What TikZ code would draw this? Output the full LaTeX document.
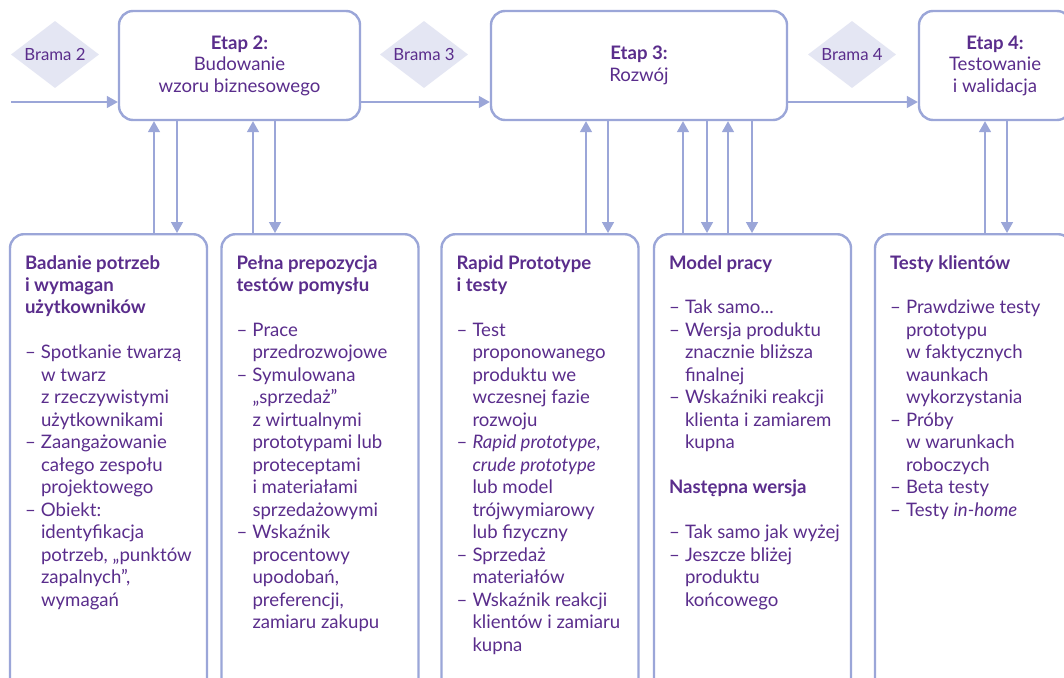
\documentclass[tikz,border=0pt]{standalone}
\usepackage{fontspec}
\setmainfont{Lato}
\usetikzlibrary{arrows.meta,shapes.geometric}
\definecolor{ink}{HTML}{5A2D8C}
\definecolor{edge}{HTML}{9BA6D8}
\definecolor{gatefill}{HTML}{E4E6F3}
\newlength\dashw
\setlength\dashw{16pt}
% list item with a hanging en dash, and its continuation lines
\newcommand\dashitem[1]{\makebox[\dashw][l]{–}#1}
\newcommand\dashcont[1]{\hspace*{\dashw}#1}

\begin{document}
\begin{tikzpicture}[x=1pt,y=-1pt,
  stage/.style={draw=edge, line width=2.4pt, rounded corners=14pt, fill=white,
    inner sep=0pt, minimum height=109pt, align=center, text=ink,
    font=\fontsize{18.6}{21.5}\selectfont},
  panel/.style={draw=edge, line width=2.4pt, rounded corners=14pt, fill=white,
    inner sep=0pt, minimum width=197pt, minimum height=487pt},
  paneltext/.style={anchor=north west, inner sep=0pt, align=left, text=ink,
    font=\fontsize{18.6}{22.47}\selectfont},
  gate/.style={diamond, aspect=1.3, fill=gatefill, minimum width=88pt,
    minimum height=67pt, inner sep=0pt, text=ink, font=\fontsize{16.8}{20}\selectfont},
  flow/.style={draw=edge, line width=1.5pt, -{Triangle[length=11pt,width=12pt]}}
]
\useasboundingbox (0,0) rectangle (1064,677);
\clip (0,0) rectangle (1064,677);
\fill[white] (0,0) rectangle (1064,677);

% gates
\node[gate] (g2) at (55,54.5) {Brama 2};
\node[gate] (g3) at (424,54.5) {Brama 3};
\node[gate] (g4) at (852,54.5) {Brama 4};

% stages
\node[stage, minimum width=241pt] (e2) at (239.5,65.5)
  {\textbf{Etap 2:}\\Budowanie\\wzoru biznesowego};
\node[stage, minimum width=296pt] (e3) at (639,65.5)
  {\textbf{Etap 3:}\\Rozwój};
\node[stage, minimum width=152pt] (e4) at (995,65.5)
  {\textbf{Etap 4:}\\Testowanie\\i walidacja};

% activity panels
\node[panel, anchor=north] (b1) at (108.5,233) {};
\node[panel, anchor=north] (b2) at (320,233) {};
\node[panel, anchor=north] (b3) at (540,233) {};
\node[panel, anchor=north] (b4) at (752.5,233) {};
\node[panel, anchor=north] (b5) at (973.5,233) {};

\node[paneltext] (t1) at ([xshift=16pt,yshift=-22pt]b1.north west) {%
  \textbf{Badanie potrzeb}\\
  \textbf{i wymagan}\\
  \textbf{użytkowników}\\
  \strut\\
  \dashitem{Spotkanie twarzą}\\
  \dashcont{w twarz}\\
  \dashcont{z rzeczywistymi}\\
  \dashcont{użytkownikami}\\
  \dashitem{Zaangażowanie}\\
  \dashcont{całego zespołu}\\
  \dashcont{projektowego}\\
  \dashitem{Obiekt:}\\
  \dashcont{identyfikacja}\\
  \dashcont{potrzeb, „punktów}\\
  \dashcont{zapalnych”,}\\
  \dashcont{wymagań}};

\node[paneltext] (t2) at ([xshift=16pt,yshift=-22pt]b2.north west) {%
  \textbf{Pełna prepozycja}\\
  \textbf{testów pomysłu}\\
  \strut\\
  \dashitem{Prace}\\
  \dashcont{przedrozwojowe}\\
  \dashitem{Symulowana}\\
  \dashcont{„sprzedaż”}\\
  \dashcont{z wirtualnymi}\\
  \dashcont{prototypami lub}\\
  \dashcont{proteceptami}\\
  \dashcont{i materiałami}\\
  \dashcont{sprzedażowymi}\\
  \dashitem{Wskaźnik}\\
  \dashcont{procentowy}\\
  \dashcont{upodobań,}\\
  \dashcont{preferencji,}\\
  \dashcont{zamiaru zakupu}};

\node[paneltext] (t3) at ([xshift=16pt,yshift=-22pt]b3.north west) {%
  \textbf{Rapid Prototype}\\
  \textbf{i testy}\\
  \strut\\
  \dashitem{Test}\\
  \dashcont{proponowanego}\\
  \dashcont{produktu we}\\
  \dashcont{wczesnej fazie}\\
  \dashcont{rozwoju}\\
  \dashitem{\textit{Rapid prototype},}\\
  \dashcont{\textit{crude prototype}}\\
  \dashcont{lub model}\\
  \dashcont{trójwymiarowy}\\
  \dashcont{lub fizyczny}\\
  \dashitem{Sprzedaż}\\
  \dashcont{materiałów}\\
  \dashitem{Wskaźnik reakcji}\\
  \dashcont{klientów i zamiaru}\\
  \dashcont{kupna}};

\node[paneltext] (t4) at ([xshift=16pt,yshift=-22pt]b4.north west) {%
  \textbf{Model pracy}\\
  \strut\\
  \dashitem{Tak samo...}\\
  \dashitem{Wersja produktu}\\
  \dashcont{znacznie bliższa}\\
  \dashcont{finalnej}\\
  \dashitem{Wskaźniki reakcji}\\
  \dashcont{klienta i zamiarem}\\
  \dashcont{kupna}\\
  \strut\\
  \textbf{Następna wersja}\\
  \strut\\
  \dashitem{Tak samo jak wyżej}\\
  \dashitem{Jeszcze bliżej}\\
  \dashcont{produktu}\\
  \dashcont{końcowego}};

\node[paneltext] (t5) at ([xshift=16pt,yshift=-22pt]b5.north west) {%
  \textbf{Testy klientów}\\
  \strut\\
  \dashitem{Prawdziwe testy}\\
  \dashcont{prototypu}\\
  \dashcont{w faktycznych}\\
  \dashcont{waunkach}\\
  \dashcont{wykorzystania}\\
  \dashitem{Próby}\\
  \dashcont{w warunkach}\\
  \dashcont{roboczych}\\
  \dashitem{Beta testy}\\
  \dashitem{Testy \textit{in-home}}};

% main flow between stages
\coordinate (start) at (11,102);
\coordinate (row) at (0,102);
\draw[flow] (start) -- (e2.west |- row);
\draw[flow] (e2.east |- row) -- (e3.west |- row);
\draw[flow] (e3.east |- row) -- (e4.west |- row);

% feedback columns between stages and panels
\coordinate (c1u) at (154,0);  \coordinate (c1d) at (177,0);
\coordinate (c2u) at (253,0);  \coordinate (c2d) at (275,0);
\coordinate (c3u) at (586,0);  \coordinate (c3d) at (608,0);
\coordinate (c4u) at (683,0);  \coordinate (c4d) at (707,0);
\coordinate (c4v) at (728,0);  \coordinate (c4e) at (752,0);
\coordinate (c5u) at (985,0);  \coordinate (c5d) at (1007,0);

\draw[flow] (b1.north -| c1u) -- (e2.south -| c1u);
\draw[flow] (e2.south -| c1d) -- (b1.north -| c1d);
\draw[flow] (b2.north -| c2u) -- (e2.south -| c2u);
\draw[flow] (e2.south -| c2d) -- (b2.north -| c2d);
\draw[flow] (b3.north -| c3u) -- (e3.south -| c3u);
\draw[flow] (e3.south -| c3d) -- (b3.north -| c3d);
\draw[flow] (b4.north -| c4u) -- (e3.south -| c4u);
\draw[flow] (e3.south -| c4d) -- (b4.north -| c4d);
\draw[flow] (b4.north -| c4v) -- (e3.south -| c4v);
\draw[flow] (e3.south -| c4e) -- (b4.north -| c4e);
\draw[flow] (b5.north -| c5u) -- (e4.south -| c5u);
\draw[flow] (e4.south -| c5d) -- (b5.north -| c5d);
\end{tikzpicture}
\end{document}
